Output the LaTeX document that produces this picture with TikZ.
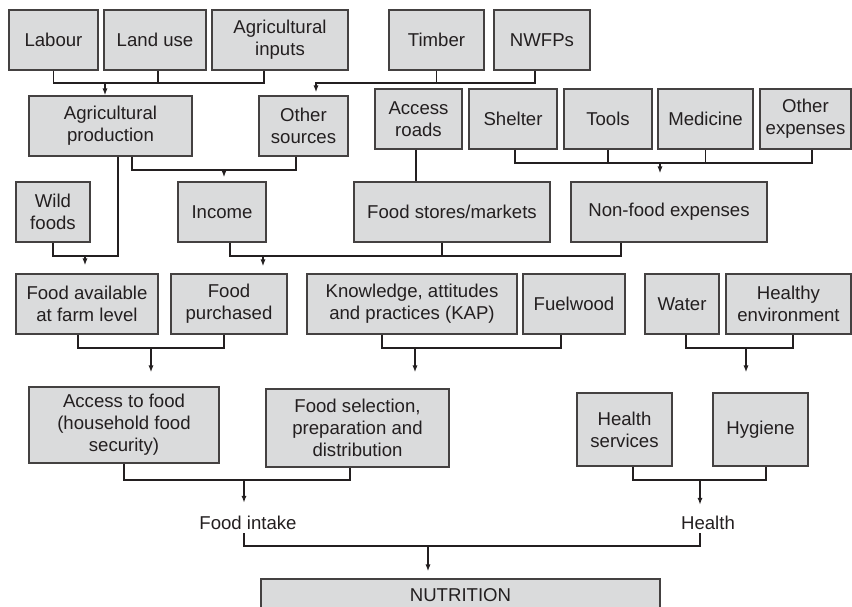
\documentclass[tikz,border=0pt]{standalone}
\usepackage{fontspec}
\setmainfont{Liberation Sans}
\usetikzlibrary{arrows.meta}
\definecolor{boxgray}{RGB}{218,219,220}
\definecolor{ink}{RGB}{35,31,32}
\begin{document}
\begin{tikzpicture}[x=0.5pt, y=-0.5pt,
	box/.style={shape=rectangle, draw=ink!85, fill=boxgray, line width=0.6pt, minimum height=30pt, inner sep=0pt, align=center, text=ink, font=\fontsize{9.3}{11}\selectfont},
	lbl/.style={inner sep=1.5pt, text=ink, font=\fontsize{9.3}{11}\selectfont},
	link/.style={draw=ink, line width=0.9pt},
	arr/.style={link, -{Latex[length=3.5pt, width=2.6pt]}}]
	\useasboundingbox (0, 0) rectangle (852, 606);
	\clip (0, 0) rectangle (852, 606);
	\node[box, minimum width=44.5pt](Lab) at (53.5, 40){Labour};
	\node[box, minimum width=51pt](Land) at (155, 40){Land use};
	\node[box, minimum width=68pt](Inp) at (280, 40){Agricultural\\inputs};
	\node[box, minimum width=47.5pt](Tim) at (436.5, 40){Timber};
	\node[box, minimum width=48pt](NWFP) at (542, 40){NWFPs};
	\node[box, minimum width=81.5pt](AgP) at (110.5, 126){Agricultural\\production};
	\node[box, minimum width=44.5pt](Oth) at (303.5, 126){Other\\sources};
	\node[box, minimum width=43.5pt](Road) at (418.5, 119){Access\\roads};
	\node[box, minimum width=44pt](Shel) at (513, 119){Shelter};
	\node[box, minimum width=44pt](Tool) at (608, 119){Tools};
	\node[box, minimum width=47.5pt](Med) at (705.5, 119){Medicine};
	\node[box, minimum width=45.5pt](OExp) at (805.5, 119){Other\\expenses};
	\node[box, minimum width=37pt](Wild) at (53, 212){Wild\\foods};
	\node[box, minimum width=44pt](Inc) at (222, 212){Income};
	\node[box, minimum width=98pt](Store) at (452, 212){Food stores/markets};
	\node[box, minimum width=98pt](NonF) at (669, 212){Non-food expenses};
	\node[box, minimum width=71pt](FAv) at (87, 304){Food available\\at farm level};
	\node[box, minimum width=58pt](FPur) at (229, 304){Food\\purchased};
	\node[box, minimum width=105pt](KAP) at (412, 304){Knowledge, attitudes\\and practices (KAP)};
	\node[box, minimum width=51pt](Fuel) at (574, 304){Fuelwood};
	\node[box, minimum width=37pt](Wat) at (682, 304){Water};
	\node[box, minimum width=62.5pt](Env) at (788.5, 304){Healthy\\environment};
	\node[box, minimum width=95pt, minimum height=38pt](Acc) at (124, 425){Access to food\\(household food\\security)};
	\node[box, minimum width=91.5pt, minimum height=39pt](Sel) at (357.5, 428){Food selection,\\preparation and\\distribution};
	\node[box, minimum width=47.5pt, minimum height=36.5pt](HSer) at (624.5, 429.5){Health\\services};
	\node[box, minimum width=47.5pt, minimum height=36.5pt](Hyg) at (760.5, 429.5){Hygiene};
	\node[lbl](Intake) at (248, 523){Food intake};
	\node[lbl](Hlth) at (708, 523){Health};
	\node[box, minimum width=199.5pt, minimum height=16pt](Nut) at (460.5, 595){NUTRITION};
	\draw[link] (Lab.south) -- ++(0, 12) coordinate (b1) -| ([xshift=-8pt]Inp.south);
	\draw[link] ([xshift=1.5pt]Land.south) -- ++(0, 12);
	\draw[arr] ([xshift=-2.75pt]AgP.north |- b1) -- ([xshift=-2.75pt]AgP.north);
	\draw[link] (Tim.south) -- ++(0, 12) -| ([xshift=-3.5pt]NWFP.south);
	\draw[arr, shorten >=1.5pt] (Tim.south) ++(0, 12) -| ([xshift=6.25pt]Oth.north);
	\draw[link] ([xshift=3.75pt]AgP.south) -- ++(0, 99) coordinate (b3) -| (Wild.south);
	\draw[arr, shorten >=4pt] ([xshift=-1pt]FAv.north |- b3) -- ([xshift=-1pt]FAv.north);
	\draw[link] ([xshift=10.75pt]AgP.south) -- ++(0, 13) coordinate (b2) -| ([xshift=-3.75pt]Oth.south);
	\draw[arr, shorten >=2pt] ([xshift=1pt]Inc.north |- b2) -- ([xshift=1pt]Inc.north);
	\draw[link] ([xshift=-1.25pt]Road.south) -- ([xshift=-1.25pt]Road.south |- Store.north);
	\draw[link] ([xshift=1pt]Shel.south) -- ++(0, 13) coordinate (b4) -| ([xshift=3.25pt]OExp.south);
	\draw[link] (Tool.south) -- ++(0, 13);
	\draw[link] (Med.south) -- ++(0, 13);
	\draw[arr, shorten >=4pt] ([xshift=-4.5pt]NonF.north |- b4) -- ([xshift=-4.5pt]NonF.north);
	\draw[link] ([xshift=4pt]Inc.south) -- ++(0, 13) coordinate (b5) -| ([xshift=-24pt]NonF.south);
	\draw[link] ([xshift=-5pt]Store.south) -- ++(0, 13);
	\draw[arr, shorten >=3.5pt] ([xshift=17pt]FPur.north |- b5) -- ([xshift=17pt]FPur.north);
	\draw[link] ([xshift=-4.5pt]FAv.south) -- ++(0, 13) coordinate (b6) -| ([xshift=-2.5pt]FPur.south);
	\draw[arr, shorten >=7pt] ([xshift=13.5pt]Acc.north |- b6) -- ([xshift=13.5pt]Acc.north);
	\draw[link] ([xshift=-15pt]KAP.south) -- ++(0, 13) coordinate (b7) -| ([xshift=-6.5pt]Fuel.south);
	\draw[arr, shorten >=8pt] ([xshift=28.75pt]Sel.north |- b7) -- ([xshift=28.75pt]Sel.north);
	\draw[link] ([xshift=2pt]Wat.south) -- ++(0, 13) coordinate (b8) -| ([xshift=2.25pt]Env.south);
	\draw[arr, shorten >=10pt] ([xshift=-7.25pt]Hyg.north |- b8) -- ([xshift=-7.25pt]Hyg.north);
	\draw[link] (Acc.south) -- ++(0, 16) coordinate (b9) -| ([xshift=-3.75pt]Sel.south);
	\draw[arr, shorten >=5pt] ([xshift=-2pt]Intake.north |- b9) -- ([xshift=-2pt]Intake.north);
	\draw[link] ([xshift=4.25pt]HSer.south) -- ++(0, 13) coordinate (b10) -| ([xshift=2.75pt]Hyg.south);
	\draw[arr, shorten >=4pt] ([xshift=-4pt]Hlth.north |- b10) -- ([xshift=-4pt]Hlth.north);
	\draw[link] ([xshift=-2pt]Intake.south) -- ++(0, 13) coordinate (b11) -| ([xshift=-4pt]Hlth.south);
	\draw[arr, shorten >=3.5pt] ([xshift=-16.25pt]Nut.north |- b11) -- ([xshift=-16.25pt]Nut.north);
\end{tikzpicture}
\end{document}
